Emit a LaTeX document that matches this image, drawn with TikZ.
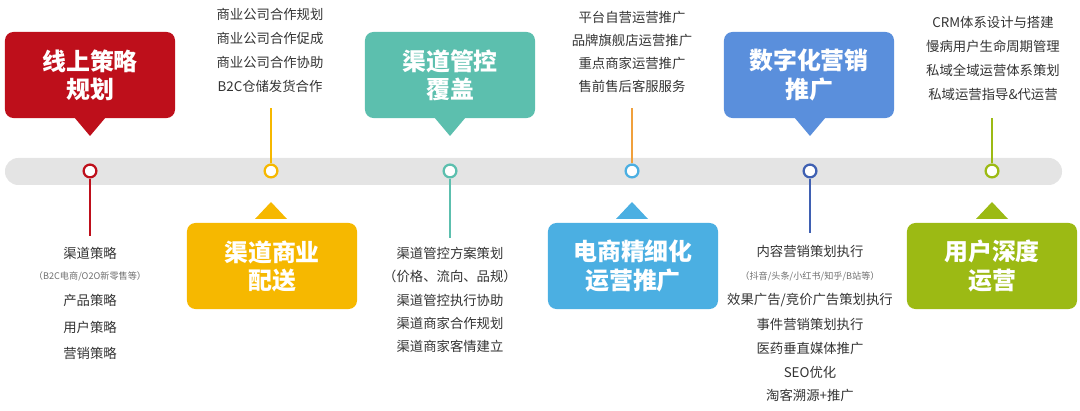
\documentclass[tikz,border=0pt]{standalone}
\usepackage{fontspec}
\setmainfont{Noto Sans CJK SC}
\definecolor{cred}{HTML}{BE0F1B}
\definecolor{cyel}{HTML}{F6B800}
\definecolor{cteal}{HTML}{5CBFAE}
\definecolor{csky}{HTML}{4BAFE2}
\definecolor{cblue}{HTML}{5A8FDC}
\definecolor{cgreen}{HTML}{9CBA14}
\definecolor{corange}{HTML}{F0A03C}
\definecolor{cnavy}{HTML}{3F60B2}
\definecolor{cbar}{HTML}{E4E4E4}
\definecolor{ctext}{HTML}{333333}
\tikzset{
  box/.style={fill=#1, rounded corners=6pt, minimum width=4.25cm, minimum height=2.15cm,
    text=white, font=\fontsize{17}{20}\selectfont\bfseries, align=center},
  mark/.style={circle, draw=#1, line width=1.6pt, fill=white, minimum size=0.32cm, inner sep=0pt},
  item/.style={text=ctext, font=\fontsize{9.5}{11}\selectfont, inner sep=0pt},
  small/.style={text=ctext!70, font=\fontsize{6.5}{8}\selectfont, inner sep=0pt},
  stem/.style={draw=#1, line width=1.4pt},
}
\begin{document}
\begin{tikzpicture}[x=0.025cm, y=-0.025cm]
\useasboundingbox (0,0) rectangle (1080,411);
% timeline
\fill[cbar, rounded corners=0.33cm] (5,158) rectangle (1062,185);
% pointers
\fill[cred] (74,117) -- (90,136) -- (106,117) -- cycle;
\fill[cteal] (434,117) -- (450,136) -- (466,117) -- cycle;
\fill[cblue] (794,117) -- (810,136) -- (826,117) -- cycle;
\fill[cyel] (255,219) -- (271,202) -- (287,219) -- cycle;
\fill[csky] (616,219) -- (632,202) -- (648,219) -- cycle;
\fill[cgreen] (976,219) -- (992,202) -- (1008,219) -- cycle;
% boxes
\node[box=cred] (b1) at (90,75) {线上策略\\规划};
\node[box=cyel] (b2) at (272,266) {渠道商业\\配送};
\node[box=cteal] (b3) at (450,75) {渠道管控\\覆盖};
\node[box=csky] (b4) at (633,266) {电商精细化\\运营推广};
\node[box=cblue] (b5) at (809,75) {数字化营销\\推广};
\node[box=cgreen] (b6) at (992,266) {用户深度\\运营};
% markers
\node[mark=cred] (m1) at (90,171) {};
\node[mark=cyel] (m2) at (271,171) {};
\node[mark=cteal] (m3) at (450,171) {};
\node[mark=csky] (m4) at (632,171) {};
\node[mark=cnavy] (m5) at (810,171) {};
\node[mark=cgreen] (m6) at (992,171) {};
% stem ends
\coordinate (e1) at (90,236);
\coordinate (e2) at (271,108);
\coordinate (e3) at (450,238);
\coordinate (e4) at (632,108);
\coordinate (e5) at (810,233);
\coordinate (e6) at (992,118);
\draw[stem=cred] (m1) -- (e1);
\draw[stem=cyel] (m2) -- (e2);
\draw[stem=cteal] (m3) -- (e3);
\draw[stem=corange] (m4) -- (e4);
\draw[stem=cnavy] (m5) -- (e5);
\draw[stem=cgreen] (m6) -- (e6);
% texts above
\node[item] (t21) at (270,14) {商业公司合作规划};
\node[item] (t22) at (270,38) {商业公司合作促成};
\node[item] (t23) at (270,62) {商业公司合作协助};
\node[item] (t24) at (270,86) {B2C仓储发货合作};
\node[item] (t41) at (632,17) {平台自营运营推广};
\node[item] (t42) at (632,40) {品牌旗舰店运营推广};
\node[item] (t43) at (632,63) {重点商家运营推广};
\node[item] (t44) at (632,86) {售前售后客服服务};
\node[item] (t61) at (993,22) {CRM体系设计与搭建};
\node[item] (t62) at (993,46) {慢病用户生命周期管理};
\node[item] (t63) at (993,70) {私域全域运营体系策划};
\node[item] (t64) at (993,94) {私域运营指导\&代运营};
% texts below
\node[item] (t11) at (90,253) {渠道策略};
\node[small] (t12) at (90,276) {（B2C电商/O2O新零售等）};
\node[item] (t13) at (90,300) {产品策略};
\node[item] (t14) at (90,327) {用户策略};
\node[item] (t15) at (90,353) {营销策略};
\node[item] (t31) at (450,253) {渠道管控方案策划};
\node[item] (t32) at (450,276) {（价格、流向、品规）};
\node[item] (t33) at (450,300) {渠道管控执行协助};
\node[item] (t34) at (450,323) {渠道商家合作规划};
\node[item] (t35) at (450,346) {渠道商家客情建立};
\node[item] (t51) at (810,251) {内容营销策划执行};
\node[small] (t52) at (810,276) {（抖音/头条/小红书/知乎/B站等）};
\node[item] (t53) at (810,300) {效果广告/竞价广告策划执行};
\node[item] (t54) at (810,324) {事件营销策划执行};
\node[item] (t55) at (810,348) {医药垂直媒体推广};
\node[item] (t56) at (810,372) {SEO优化};
\node[item] (t57) at (810,395) {淘客溯源+推广};
\end{tikzpicture}
\end{document}
